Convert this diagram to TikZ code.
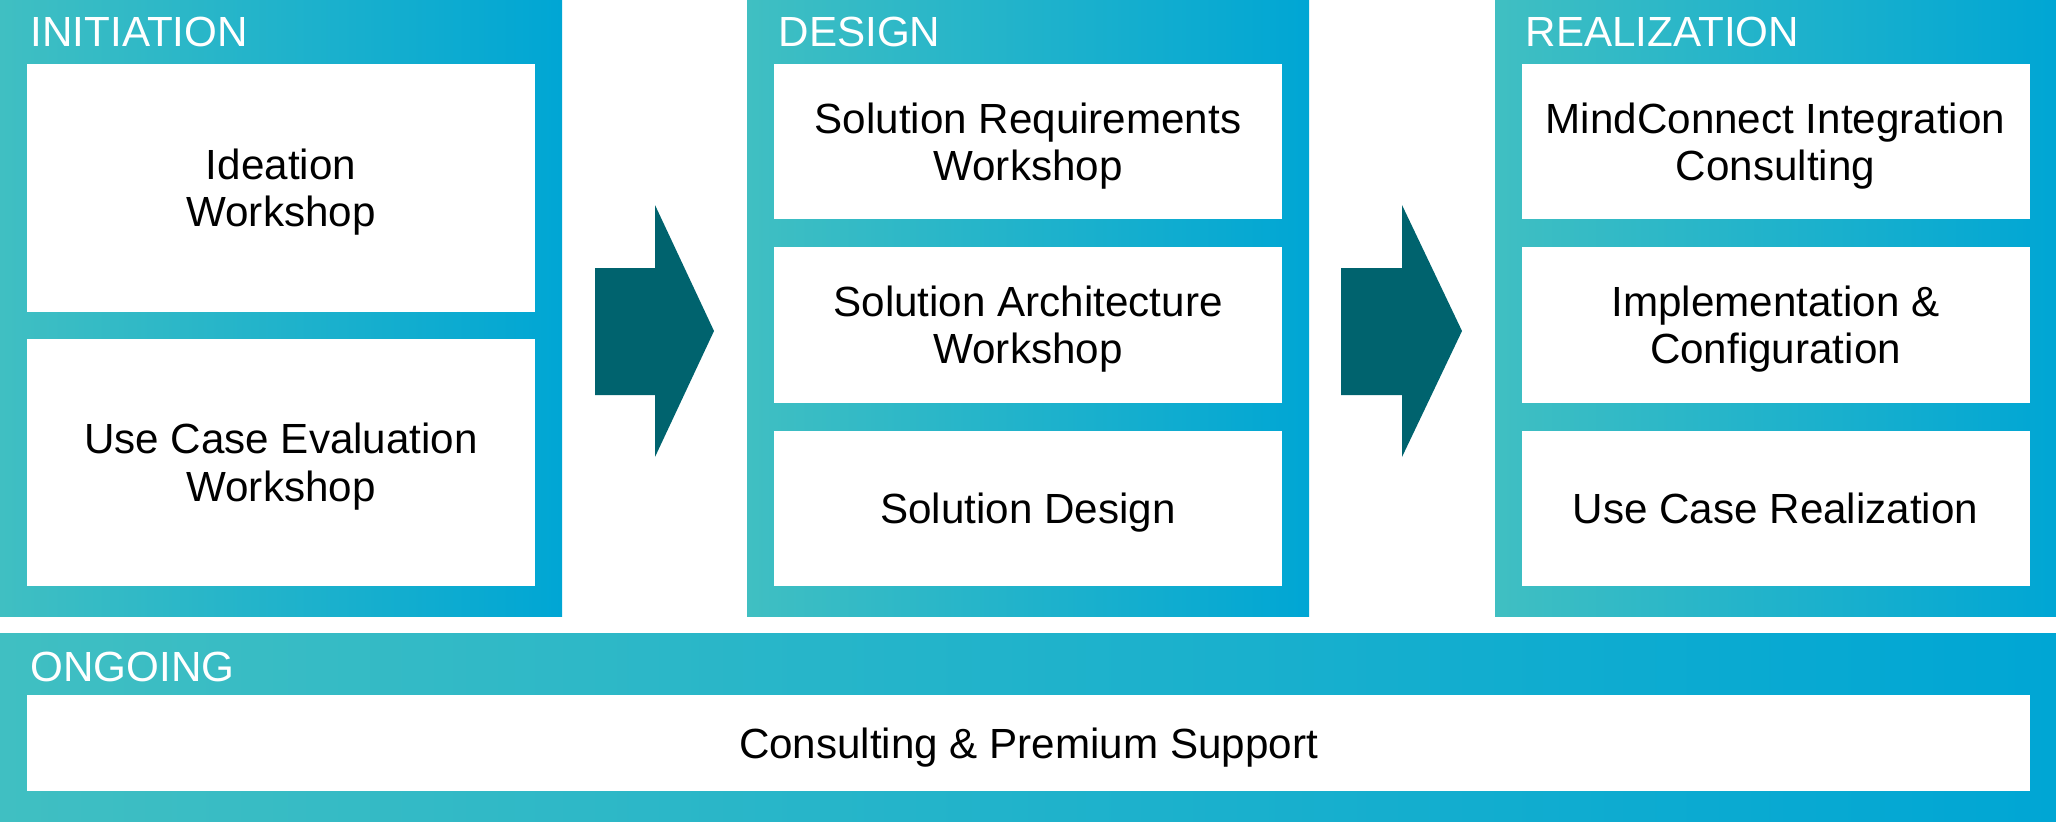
\documentclass[tikz,border=0pt]{standalone}
\usepackage{fontspec}
\setmainfont{Liberation Sans}
\definecolor{phaseteal}{RGB}{64,191,194}
\definecolor{phaseblue}{RGB}{0,166,212}
\definecolor{arrowteal}{RGB}{0,99,110}
\tikzset{
  phase/.style={left color=phaseteal, right color=phaseblue},
  phasehead/.style={anchor=base west, inner sep=0pt, text=white, font=\fontsize{12}{14}\selectfont},
  stagebox/.style={fill=white, inner sep=0pt, text depth=0pt, minimum width=50.8mm, align=center, font=\fontsize{12}{13.4}\selectfont},
  flowarrow/.style={fill=arrowteal}
}

\begin{document}
\begin{tikzpicture}[x=0.1mm,y=-0.1mm]
\useasboundingbox (0,0) rectangle (2056,822);
\shade[phase] (0,0) rectangle (562,616);
\shade[phase] (747,0) rectangle (1309,616);
\shade[phase] (1495,0) rectangle (2056,616);
\shade[phase] (0,633) rectangle (2056,822);
\node[phasehead] (inithead) at (30,46) {INITIATION};
\node[phasehead] (designhead) at (778,46) {DESIGN};
\node[phasehead] (realhead) at (1525,46) {REALIZATION};
\node[phasehead] (ongoinghead) at (30,681) {ONGOING};
\node[stagebox, minimum height=24.75mm] (ideation) at (281,187.75) {Ideation\\Workshop};
\node[stagebox, minimum height=24.75mm] (usecaseeval) at (281,462.25) {Use Case Evaluation\\Workshop};
\node[stagebox, minimum height=15.53mm] (solreq) at (1028,141.65) {Solution Requirements\\Workshop};
\node[stagebox, minimum height=15.53mm] (solarch) at (1028,325) {Solution Architecture\\Workshop};
\node[stagebox, minimum height=15.53mm] (soldesign) at (1028,508.35) {Solution Design};
\node[stagebox, minimum height=15.53mm] (mindconnect) at (1775.5,141.65) {MindConnect Integration\\Consulting};
\node[stagebox, minimum height=15.53mm] (implement) at (1775.5,325) {Implementation \&\\Configuration};
\node[stagebox, minimum height=15.53mm] (usecasereal) at (1775.5,508.35) {Use Case Realization};
\node[stagebox, minimum width=200.3mm, minimum height=9.6mm] (support) at (1028.5,743) {Consulting \& Premium Support};
\fill[flowarrow] (595,268) -- (655,268) -- (655,205) -- (714,331) -- (655,457) -- (655,395) -- (595,395) -- cycle;
\fill[flowarrow] (1341,268) -- (1402,268) -- (1402,205) -- (1462,331) -- (1402,457) -- (1402,395) -- (1341,395) -- cycle;
\end{tikzpicture}
\end{document}
